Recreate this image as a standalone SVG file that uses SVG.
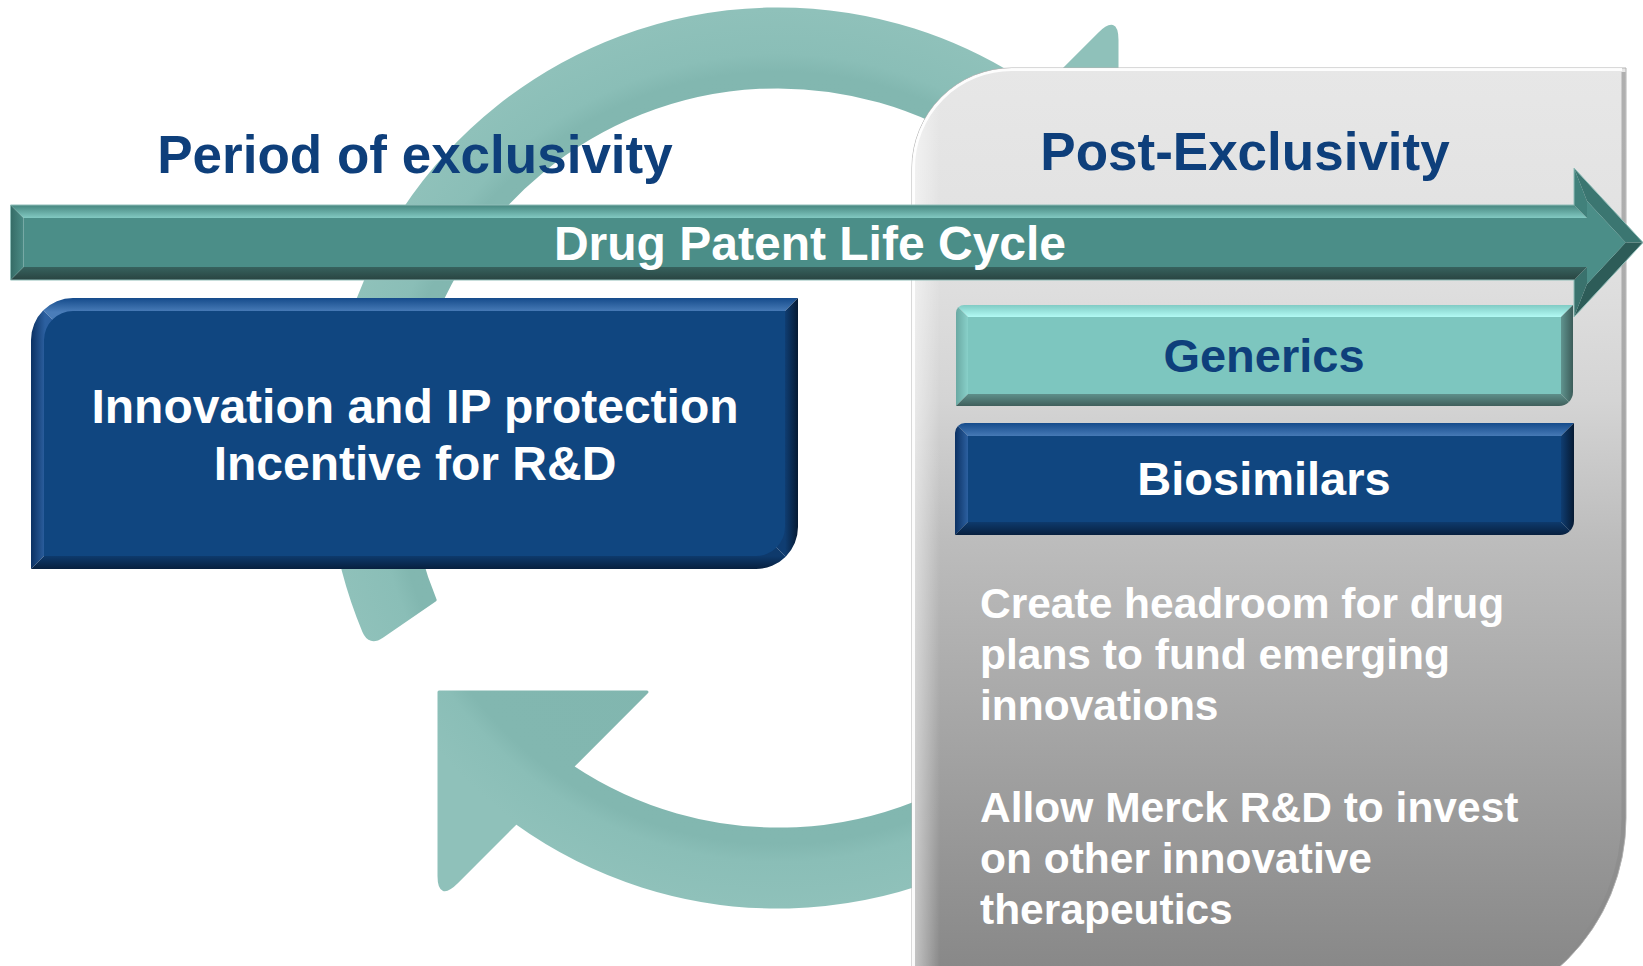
<svg xmlns="http://www.w3.org/2000/svg" width="1643" height="966" viewBox="0 0 1643 966">
  <style>
    .t { font-family: "Liberation Sans", Arial, Helvetica, sans-serif; font-weight: bold; }
    .head { font-size: 53px; fill: #0e3f7b; text-anchor: middle; }
    .band { font-size: 48px; fill: #ffffff; text-anchor: middle; }
    .box { font-size: 48px; fill: #ffffff; text-anchor: middle; }
    .tag { font-size: 47px; text-anchor: middle; }
    .note { font-size: 42.5px; fill: #ffffff; }
    .ring { fill: url(#ringFill); stroke: url(#ringFill); stroke-width: 3; stroke-linejoin: round; }
  </style>
  <defs>
    <!-- cycle ring shading -->
    <radialGradient id="ringFill" gradientUnits="userSpaceOnUse" cx="778" cy="458" r="449">
      <stop offset="0" stop-color="#80b5ae"/>
      <stop offset="0.86" stop-color="#82b7b0"/>
      <stop offset="0.9" stop-color="#8abeb7"/>
      <stop offset="1" stop-color="#8fc1ba"/>
    </radialGradient>

    <!-- post-exclusivity panel -->
    <linearGradient id="panelFill" gradientUnits="userSpaceOnUse" x1="0" y1="68" x2="0" y2="1018">
      <stop offset="0" stop-color="#e7e7e7"/>
      <stop offset="0.2" stop-color="#e1e1e1"/>
      <stop offset="0.35" stop-color="#d4d4d4"/>
      <stop offset="0.5" stop-color="#bcbcbc"/>
      <stop offset="0.75" stop-color="#9f9f9f"/>
      <stop offset="1" stop-color="#828282"/>
    </linearGradient>
    <linearGradient id="panelEdge" gradientUnits="userSpaceOnUse" x1="912" y1="0" x2="940" y2="0">
      <stop offset="0" stop-color="#ffffff" stop-opacity="0.55"/>
      <stop offset="1" stop-color="#ffffff" stop-opacity="0"/>
    </linearGradient>
    <clipPath id="clipPanel">
      <path d="M 912,168 A 100 100 0 0 1 1012,68 L 1626,68 L 1626,818 A 200 200 0 0 1 1426,1018 L 912,1018 Z"/>
    </clipPath>

    <!-- blue bevel box (left) -->
    <linearGradient id="lbTop" gradientUnits="userSpaceOnUse" x1="0" y1="298" x2="0" y2="312">
      <stop offset="0" stop-color="#154b8b"/><stop offset="1" stop-color="#4a7db9"/>
    </linearGradient>
    <linearGradient id="lbLeft" gradientUnits="userSpaceOnUse" x1="31" y1="0" x2="45" y2="0">
      <stop offset="0" stop-color="#0b3163"/><stop offset="1" stop-color="#2c60a0"/>
    </linearGradient>
    <linearGradient id="lbRight" gradientUnits="userSpaceOnUse" x1="785" y1="0" x2="798" y2="0">
      <stop offset="0" stop-color="#0f3d72"/><stop offset="1" stop-color="#061a33"/>
    </linearGradient>
    <linearGradient id="lbBottom" gradientUnits="userSpaceOnUse" x1="0" y1="556" x2="0" y2="569">
      <stop offset="0" stop-color="#0e3a6c"/><stop offset="1" stop-color="#07203f"/>
    </linearGradient>
    <clipPath id="clipLeftBox">
      <path d="M 31,298 L 798,298 L 798,527 A 42 42 0 0 1 756,569 L 31,569 L 31,340 A 42 42 0 0 1 73,298 Z"/>
    </clipPath>

    <!-- biosimilars bevel -->
    <linearGradient id="bsTop" gradientUnits="userSpaceOnUse" x1="0" y1="423" x2="0" y2="437">
      <stop offset="0" stop-color="#154b8b"/><stop offset="1" stop-color="#4a7db9"/>
    </linearGradient>
    <linearGradient id="bsLeft" gradientUnits="userSpaceOnUse" x1="955" y1="0" x2="968" y2="0">
      <stop offset="0" stop-color="#0b3163"/><stop offset="1" stop-color="#2c60a0"/>
    </linearGradient>
    <linearGradient id="bsRight" gradientUnits="userSpaceOnUse" x1="1561" y1="0" x2="1574" y2="0">
      <stop offset="0" stop-color="#0f3d72"/><stop offset="1" stop-color="#061a33"/>
    </linearGradient>
    <linearGradient id="bsBottom" gradientUnits="userSpaceOnUse" x1="0" y1="522" x2="0" y2="535">
      <stop offset="0" stop-color="#0e3a6c"/><stop offset="1" stop-color="#07203f"/>
    </linearGradient>
    <clipPath id="clipBio">
      <path d="M 955,433 A 10 10 0 0 1 965,423 L 1574,423 L 1574,521 A 14 14 0 0 1 1560,535 L 955,535 Z"/>
    </clipPath>

    <!-- generics bevel -->
    <linearGradient id="gnTop" gradientUnits="userSpaceOnUse" x1="0" y1="305" x2="0" y2="317">
      <stop offset="0" stop-color="#80cbc4"/><stop offset="1" stop-color="#b2faf4"/>
    </linearGradient>
    <linearGradient id="gnLeft" gradientUnits="userSpaceOnUse" x1="956" y1="0" x2="968" y2="0">
      <stop offset="0" stop-color="#6aa9a3"/><stop offset="1" stop-color="#88d0c9"/>
    </linearGradient>
    <linearGradient id="gnRight" gradientUnits="userSpaceOnUse" x1="1561" y1="0" x2="1573" y2="0">
      <stop offset="0" stop-color="#60948f"/><stop offset="1" stop-color="#3c5c59"/>
    </linearGradient>
    <linearGradient id="gnBottom" gradientUnits="userSpaceOnUse" x1="0" y1="394" x2="0" y2="406">
      <stop offset="0" stop-color="#5e8f8a"/><stop offset="1" stop-color="#405f5c"/>
    </linearGradient>
    <clipPath id="clipGen">
      <path d="M 956,313 A 8 8 0 0 1 964,305 L 1573,305 L 1573,392 A 14 14 0 0 1 1559,406 L 956,406 Z"/>
    </clipPath>

    <!-- life cycle band -->
    <linearGradient id="bTop" gradientUnits="userSpaceOnUse" x1="0" y1="205" x2="0" y2="218">
      <stop offset="0" stop-color="#46867f"/><stop offset="1" stop-color="#82c9c2"/>
    </linearGradient>
    <linearGradient id="bBottom" gradientUnits="userSpaceOnUse" x1="0" y1="267" x2="0" y2="280">
      <stop offset="0" stop-color="#37625e"/><stop offset="1" stop-color="#294441"/>
    </linearGradient>
    <linearGradient id="bLeft" gradientUnits="userSpaceOnUse" x1="10.5" y1="0" x2="23.5" y2="0">
      <stop offset="0" stop-color="#356b66"/><stop offset="1" stop-color="#4a8b85"/>
    </linearGradient>
  </defs>

  <rect width="1643" height="966" fill="#ffffff"/>

  <!-- circular cycle arrows -->
  <g id="connectors">
    <path id="cycle-top" class="ring" d="M 382.1,636.4 Q 369.7,644.9 363.8,631.3 A 449 449 0 0 1 1039.8,93.2 L 1099,34 Q 1117,16 1117,40 L 1117,224 L 909,224 L 983.7,149.2 A 371 371 0 0 0 435.2,600 Z"/>
    <path id="cycle-bottom" class="ring" transform="rotate(180 778 458)" d="M 382.1,636.4 Q 369.7,644.9 363.8,631.3 A 449 449 0 0 1 1039.8,93.2 L 1099,34 Q 1117,16 1117,40 L 1117,224 L 909,224 L 983.7,149.2 A 371 371 0 0 0 435.2,600 Z"/>
  </g>

  <!-- post-exclusivity panel -->
  <g id="post-exclusivity">
    <path d="M 912,168 A 100 100 0 0 1 1012,68 L 1626,68 L 1626,818 A 200 200 0 0 1 1426,1018 L 912,1018 Z" fill="url(#panelFill)" stroke="#b3b3b3" stroke-width="1"/>
    <g clip-path="url(#clipPanel)">
      <rect x="912" y="68" width="30" height="950" fill="url(#panelEdge)"/>
      <path d="M 913.5,1018 L 913.5,168 A 98.5 98.5 0 0 1 1012,69.5 L 1622,69.5" fill="none" stroke="#ffffff" stroke-width="3" stroke-opacity="0.9"/>
      <path d="M 1623.5,72 L 1623.5,818 A 197.5 197.5 0 0 1 1426,1015.5" fill="none" stroke="#8a8a8a" stroke-width="4" stroke-opacity="0.6"/>
    </g>
    <text class="t head" x="1245" y="170">Post-Exclusivity</text>
    <text class="t note" x="980" y="618">Create headroom for drug</text>
    <text class="t note" x="980" y="669">plans to fund emerging</text>
    <text class="t note" x="980" y="720">innovations</text>
    <text class="t note" x="980" y="822">Allow Merck R&amp;D to invest</text>
    <text class="t note" x="980" y="873">on other innovative</text>
    <text class="t note" x="980" y="924">therapeutics</text>
  </g>

  <!-- generics -->
  <g id="generics">
    <g clip-path="url(#clipGen)">
      <polygon points="951,300 1578,300 1522.5,355.5 1006.5,355.5" fill="url(#gnTop)"/>
      <polygon points="951,300 1006.5,355.5 951,411" fill="url(#gnLeft)"/>
      <polygon points="1578,300 1578,411 1522.5,355.5" fill="url(#gnRight)"/>
      <polygon points="951,411 1006.5,355.5 1522.5,355.5 1578,411" fill="url(#gnBottom)"/>
      <path d="M 968,317 H 1561 V 394 H 968 Z" fill="#7dc6bf"/>
    </g>
    <text class="t tag" x="1264" y="372" fill="#0e3f7b">Generics</text>
  </g>

  <!-- biosimilars -->
  <g id="biosimilars">
    <g clip-path="url(#clipBio)">
      <polygon points="950,418 1579,418 1518,479 1011,479" fill="url(#bsTop)"/>
      <polygon points="950,418 1011,479 950,540" fill="url(#bsLeft)"/>
      <polygon points="1579,418 1579,540 1518,479" fill="url(#bsRight)"/>
      <polygon points="950,540 1011,479 1518,479 1579,540" fill="url(#bsBottom)"/>
      <path d="M 968,436 H 1561 V 522 H 968 Z" fill="#104680"/>
    </g>
    <text class="t tag" x="1264" y="495" fill="#ffffff">Biosimilars</text>
  </g>

  <!-- period of exclusivity box -->
  <g id="exclusivity">
    <text class="t head" x="415" y="173">Period of exclusivity</text>
    <g clip-path="url(#clipLeftBox)">
      <polygon points="26,293 803,293 662.5,433.5 166.5,433.5" fill="url(#lbTop)"/>
      <polygon points="26,293 166.5,433.5 26,574" fill="url(#lbLeft)"/>
      <polygon points="803,293 803,574 662.5,433.5" fill="url(#lbRight)"/>
      <polygon points="26,574 166.5,433.5 662.5,433.5 803,574" fill="url(#lbBottom)"/>
      <path d="M 44,311 L 785,311 L 785,527 A 29 29 0 0 1 756,556 L 44,556 L 44,340 A 29 29 0 0 1 73,311 Z" fill="#104680"/>
    </g>
    <text class="t box" x="415" y="423">Innovation and IP protection</text>
    <text class="t box" x="415" y="480">Incentive for R&amp;D</text>
  </g>

  <!-- drug patent life cycle arrow -->
  <g id="life-cycle">
    <polygon points="10.5,205 1574,205 1587,218 23.5,218" fill="url(#bTop)"/>
    <polygon points="1574,205 1574,168 1587,201 1587,218" fill="#41817b"/>
    <polygon points="1574,168 1643,242.5 1625.7,242.5 1587,201" fill="#3b7671"/>
    <polygon points="1643,242.5 1574,317 1587,284 1625.7,242.5" fill="#2d5c58"/>
    <polygon points="1574,317 1574,280 1587,267 1587,284" fill="#3a726d"/>
    <polygon points="1574,280 10.5,280 23.5,267 1587,267" fill="url(#bBottom)"/>
    <polygon points="10.5,205 23.5,218 23.5,267 10.5,280" fill="url(#bLeft)"/>
    <polygon points="23.5,218 1587,218 1587,201 1625.7,242.5 1587,284 1587,267 23.5,267" fill="#4b8e88"/>
    <path d="M 10.5,205 L 1574,205 L 1574,168 L 1643,242.5 L 1574,317 L 1574,280 L 10.5,280 Z" fill="none" stroke="#8fbdb8" stroke-width="1"/>
    <text class="t band" x="810" y="260">Drug Patent Life Cycle</text>
  </g>
</svg>
